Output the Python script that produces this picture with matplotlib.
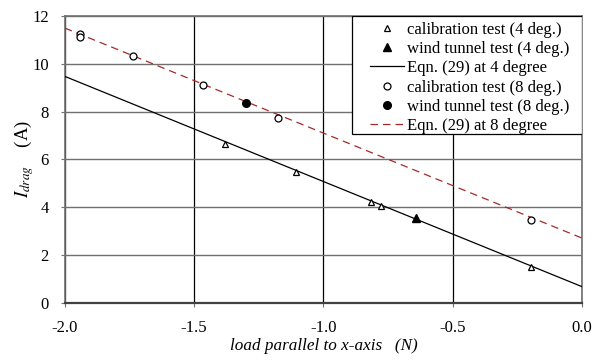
import numpy as np
import matplotlib
matplotlib.use("Agg")
import matplotlib.pyplot as plt
from matplotlib.patches import Rectangle

plt.rcParams['font.family'] = ['Liberation Serif', 'DejaVu Serif']
plt.rcParams['mathtext.fontset'] = 'stix'

# calibration / wind tunnel data, 4 degree
cal4_x = [-1.381, -1.106, -0.816, -0.778, -0.195]
cal4_y = [6.65, 5.48, 4.20, 4.03, 1.49]
wt4_x = [-0.642]
wt4_y = [3.53]
# 8 degree
cal8_x = [-1.94, -1.94, -1.738, -1.466, -1.175, -0.195]
cal8_y = [11.24, 11.12, 10.33, 9.09, 7.73, 3.46]
wt8_x = [-1.30]
wt8_y = [8.37]
# Eqn. (29) lines
eq_x = [-2.0, 0.0]
eq4_y = [9.47, 0.68]
eq8_y = [11.49, 2.71]

fig = plt.figure(figsize=(5.95, 3.61), dpi=100)
ax = fig.add_axes([0.109, 0.161, 0.869, 0.795])

ax.plot(cal4_x, cal4_y, linestyle='none', marker='^', ms=5, mfc='white', mec='black',
        mew=0.9, label='calibration test (4 deg.)', zorder=4)
ax.plot(wt4_x, wt4_y, linestyle='none', marker='^', ms=6, color='black',
        label='wind tunnel test (4 deg.)', zorder=4)
ax.plot(eq_x, eq4_y, color='black', lw=0.9, label='Eqn. (29) at 4 degree', zorder=3)
ax.plot(cal8_x, cal8_y, linestyle='none', marker='o', ms=5, mfc='white', mec='black',
        mew=0.9, label='calibration test (8 deg.)', zorder=4)
ax.plot(wt8_x, wt8_y, linestyle='none', marker='o', ms=5.5, color='black',
        label='wind tunnel test (8 deg.)', zorder=4)
ax.plot(eq_x, eq8_y, color='#a52a2a', lw=0.9, linestyle=(0, (6, 4)),
        label='Eqn. (29) at 8 degree', zorder=3)

ax.set_xlim(-2.0, 0.0)
ax.set_ylim(0, 12)
ax.set_xticks(np.arange(-2.0, 0.01, 0.5))
ax.set_xticklabels(['-2.0', '-1.5', '-1.0', '-0.5', '0.0'])
ax.set_yticks(np.arange(0, 13, 2))

ax.yaxis.grid(True, color='#707070', lw=1.0)
ax.xaxis.grid(True, color='black', lw=0.9)
ax.set_axisbelow(True)
for s in ax.spines.values():
    s.set_color('#707070')
    s.set_linewidth(1.2)
ax.spines['bottom'].set_color('#404040')
ax.spines['bottom'].set_linewidth(1.6)
ax.tick_params(axis='both', labelsize=12, direction='out', length=3, color='#707070')
ax.tick_params(axis='x', pad=9)
ax.tick_params(axis='y', pad=8.5)

ax.set_xlabel('load parallel to x-axis   (N)', fontsize=12.3, style='italic', labelpad=2)
ax.set_ylabel(r'$I_{drag}$    (A)', fontsize=13.5, labelpad=-3)

# legend box drawn by hand (wide side padding as in the reference)
ax.add_patch(Rectangle((0.555, 0.589), 0.445, 0.411, transform=ax.transAxes,
                       facecolor='white', edgecolor='black', lw=0.9, zorder=5))
leg = ax.legend(loc='upper center', bbox_to_anchor=(0.783, 1.0), fontsize=12,
                frameon=False, borderaxespad=0, handlelength=2.0, handletextpad=0.2,
                labelspacing=0.2, borderpad=0.34)
leg.set_zorder(6)

fig.savefig('out.png', dpi=100)
